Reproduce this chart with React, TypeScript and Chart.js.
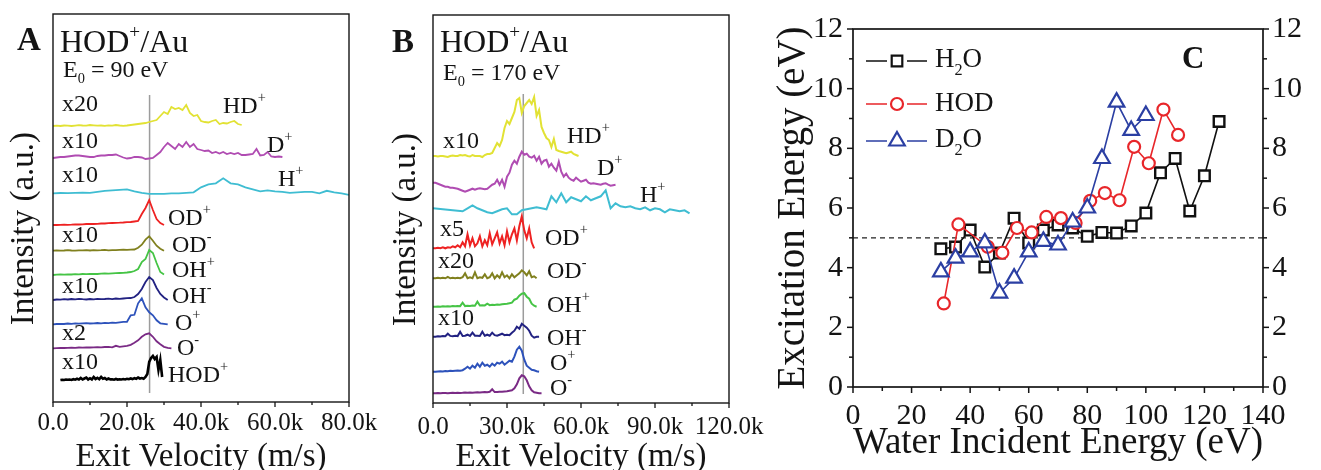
import React, { useEffect, useRef } from 'react';
import { Chart, registerables } from 'chart.js';

Chart.register(...registerables);

const SERIF = "'Liberation Serif', 'Times New Roman', 'DejaVu Serif', serif";
const INK = '#141414';
Chart.defaults.font.family = SERIF;

// ================= Panel A : HOD+/Au, E0 = 90 eV =================
// velocity axis in k m/s ; intensities in arbitrary units above each trace's baseline
const A_NAMES = ['HD+', 'D+', 'H+', 'OD+', 'OD-', 'OH+', 'OH-', 'O+', 'O-', 'HOD+'];
const A_HD_PLUS = [0, 0.3, 0, 0.5, 0.3, 0, 0.4, 0.8, 0.5, 0.3, 1, 0.7, 0.3, 0.5, 0.2, 0.6, 0.3, 1, 0.5, 0.2, 0.5, 1, 1.5, 2, 2.5, 3, 4, 5, 6, 10, 14, 12, 19, 17, 18, 16, 21, 13, 10, 11, 5, 4, 3.5, 5, 6, 2, 3, 2.5, 4, 5, 2, 1];
const A_D_PLUS = [0, 0.5, 1, 1, 1.5, 2, 2.5, 2.5, 2, 1.5, 1, 1, 2, 2.5, 2.5, 3, 3, 3.5, 2, 0.5, -0.5, 0, 1, 1, 0.5, -1, -0.5, 0, 3, 6, 11, 15, 12, 9, 14, 11, 16, 11, 14, 9, 8, 7, 7.5, 5, 6, 4.5, 6, 4, 5, 4, 5, 3, 3, 3.5, 4, 9, 2.5, 3, 6, 1.5, 1, 1.5, 1];
const A_H_PLUS = [0, 0.3, 0.2, 0.5, 0.6, 0.5, 1.5, 2.5, 3, 3.5, 4, 2, 0.5, -0.5, -0.5, -0.5, 0, 0, 0.5, 1, 6, 9, 10, 15, 10, 9, 6, 4, 2, 3, 2, 1.5, 0.5, 1, 1.5, 1.5, 0, 2.5, 1, 0, -1.5];
const A_OD_PLUS = [0, 0, 0.2, 0.3, 0.2, 0.3, 0.5, 0.5, 0.6, 1, 1, 1, 1.2, 1.5, 1.5, 1.8, 2, 2.2, 2.3, 2.5, 2.8, 3, 3.5, 4, 11, 17, 25, 15, 6, 2, 0];
const A_OD_MINUS = [0, 0.3, 0, 0.2, 0.5, 0.2, 0, 0.4, 0.3, 0.5, 0.2, 0.6, 0.3, 0.5, 0.8, 0.4, 0.6, 0.5, 0.8, 1, 0.8, 1, 1.2, 3, 6, 11, 14.5, 10, 5, 2, 0];
const A_OH_PLUS = [0, 0.3, 0.5, 0.3, 0.6, 0.5, 0.8, 0.6, 1, 0.8, 1, 1.2, 1, 1.3, 1.5, 1.4, 1.6, 1.8, 2, 2.2, 2.5, 3, 4, 6, 13, 16, 25, 22, 12, 3, 0.5];
const A_OH_MINUS = [0, 0.5, 0.3, 0.8, 0.5, 1, 0.6, 1.2, 0.8, 0.5, 1, 0.7, 1.2, 0.8, 1, 1.3, 0.9, 1.5, 1.2, 1.5, 1.8, 2, 3, 6, 11, 18, 23, 20, 12, 6, 2.5, 0];
const A_O_PLUS = [0, 0.3, 0.5, 0.3, 0.8, 0.5, 1, 0.6, 0.9, 1.2, 0.8, 1, 1.3, 1, 1.5, 1.2, 1.6, 1.5, 2, 2.5, 2.5, 9, 9.5, 21, 26, 17, 12, 9, 4, 1, 0.5, 0];
const A_O_MINUS = [0, 0.2, 0.4, 0.3, 0.5, 0.6, 0.5, 0.8, 0.6, 1, 0.8, 1, 1.2, 1, 1.3, 1.5, 1, 2.5, 1.5, 2, 2.5, 3.5, 5.5, 8, 11.5, 14, 15, 11.5, 7, 4, 1.5, 0.5, 0];
const A_HOD_PLUS = [0, 0.3, 0, 0.5, 0.2, 0.4, 0, 0.8, 0.3, 1.2, 0.4, 2, 0.5, 1.5, 2.5, 0.5, 1.8, 0.6, 3, 1, 2.2, 0.8, 3, 1.2, 2, 0.5, 1.5, 0.6, 0.8, 0.3, 1, 0.4, 0.8, 0.5, 1, 0.6, 1.2, 0.8, 1.5, 0.9, 1.8, 1.2, 2.5, 1.5, 2, 1.2, 3, 6, 18, 22, 24, 21, 23, 10, 20, 3];
const A_VALUES = [A_HD_PLUS, A_D_PLUS, A_H_PLUS, A_OD_PLUS, A_OD_MINUS, A_OH_PLUS, A_OH_MINUS, A_O_PLUS, A_O_MINUS, A_HOD_PLUS];
const A_OFFSETS = [276, 244, 208.7, 177, 151.3, 127, 102, 77.7, 53.7, 22];
const A_STARTS = [0, 0, 0, 0, 0, 0, 0, 0, 0, 2];
const A_STEPS = [1, 1, 2, 1, 1, 1, 1, 1, 1, 0.5];
const A_REF_VELOCITY = 26.1;
const A_REF_SPAN = [9, 307];
const A_X_RANGE = [0, 80];
const A_X_MAJOR = 20;
const A_X_MINOR = 10;

// ================= Panel B : HOD+/Au, E0 = 170 eV =================
const B_NAMES = ['HD+', 'D+', 'H+', 'OD+', 'OD-', 'OH+', 'OH-', 'O+', 'O-'];
const B_HD_PLUS = [0, 0, -0.5, 0, 0, -0.5, -1, 0, 0.5, 0, 0, 1, 0.5, 1, 0, -0.5, 1, 0, 0, 0, -1, 1, 2, 2, 3, 8, 13, 10, 16, 28, 35, 32, 38, 44, 56, 58, 43, 50, 53, 56, 52, 59, 40, 46, 29, 23, 18, 16, 9, 17, 6, 5, 4.3, 3.5, 2.7, 3.5, 4.3, 2, 1, 0];
const B_D_PLUS = [0, 0, -1, -2, -3, -4, -4, -5, -5, -5.5, -6, -7, -8, -9, -8, -7, -6, -7, -6, -5.5, -6, -6.5, -6, -4, -2, -1, 3, -2, 3, -4, 6, 10, 18, 22, 19, 26, 31, 28, 29, 26, 25, 27, 22, 26, 19, 22, 23, 16, 19, 15, 12, 21, 11, 6, 9, 5, 3, 2, 5, 3, 1, 2, 3, 0, -1, -0.5, -1, -1.5, -2, -1, -0.5, -2, -3, -2.5, -2];
const B_H_PLUS = [0, -0.5, -1, -1.5, -2, -2.5, -3, 0, 3, 0, -2, -4, -5, -3, -1, 0, -6, -6, -2, -1, 0, 1, 0, -1, 12, 6, 15, 6, 11, 9, 7, 12, 8, 10, 12, 18, 0, 5, 2, 1, 2, 0, -1, 1, -2, 0, -1, -4, -1, -2, -3, -2, -5];
const B_OD_PLUS = [0, 0, 0.5, 0, 1, 0, 1, 0.5, 2, 1, 3, 1, 6, 2, 14, 3, 10, 2, 5, 12, 2, 8, 3, 15, 4, 10, 16, 5, 12, 3, 17, 6, 14, 20, 8, 22, 32, 18, 10, 20, 6, 0];
const B_OD_MINUS = [0, 0, 0.5, 0, 0.5, 0, 1.5, 0, 0.5, 0, 0.5, 0, 1, 5, 0, 1, 0, 6, 0, 1, 0.5, 4, 0, 1, 5, 0, 3, 0.5, 6, 1, 3, 0, 4, 1, 3, 5, 8, 6, 3, 7, 1, 2, 0];
const B_OH_PLUS = [0, 0, 0.3, 0, 0.5, 0.2, 0.5, 0.3, 0.6, 0.4, 0.8, 0.5, 4, 0.6, 1, 0.8, 1.2, 1, 5, 1.2, 1.5, 1.3, 3, 1.5, 2, 1.8, 2.2, 2, 2.5, 2.8, 3, 3.5, 4, 7, 8, 11, 13, 13.5, 10, 8, 3, 1, 0];
const B_OH_MINUS = [0, 0, 0.5, 0.3, 0.8, 0.5, 3, 0.8, 0.5, 1, 0.6, 5, 0.8, 1, 2, 0.8, 4, 1, 1, 0.8, 5, 1, 2, 1, 4, 1.5, 1, 2, 3, 1.5, 2, 1.5, 4, 6, 10, 8, 13, 11, 9, 6, 1, -1, 0, 0];
const B_O_PLUS = [0, 0, 0.3, 0.5, 0.3, 0.8, 0.5, 1, 0.8, 1, 1.2, 1, 1.5, 3, 5, 3, 6, 4, 8, 5, 9, 6, 7, 5, 8, 6, 9, 8, 10, 7, 9, 11, 10, 15, 22, 25, 21, 12, 6, 4, 2, 1.5, 0.5, 0];
const B_O_MINUS = [0, 0, 0.2, 0, 0.3, 0.2, 0, 0.3, 0.5, 0.3, 0.5, 0.3, 0.5, 0.8, 0.5, 0.8, 0.6, 0.8, 1, 0.8, 1, 1.2, 1, 1.5, 4, 1.2, 1.3, 1.5, 1.5, 1.8, 2, 2.5, 3, 5, 9, 15, 18, 17, 13, 7, 3, 1, 0.5, 0, 0];
const B_VALUES = [B_HD_PLUS, B_D_PLUS, B_H_PLUS, B_OD_PLUS, B_OD_MINUS, B_OH_PLUS, B_OH_MINUS, B_O_PLUS, B_O_MINUS];
const B_OFFSETS = [247, 220.3, 194.7, 154.7, 124.7, 96.3, 66.3, 31.3, 9.7];
const B_STARTS = [0, 0, 0, 0, 0, 0, 0, 0, 0];
const B_STEPS = [1, 1, 2, 1, 1, 1, 1, 1, 1];
const B_REF_VELOCITY = 36.6;
const B_REF_SPAN = [9, 309];
const B_X_RANGE = [0, 120];
const B_X_MAJOR = 30;
const B_X_MINOR = 15;

// ================= Panel C : excitation energy =================
const H2O_ENERGY = [30, 35, 40, 45, 50, 55, 60, 65, 70, 75, 80, 85, 90, 95, 100, 105, 110, 115, 120, 125];
const H2O_EXCITATION = [4.63, 4.69, 5.26, 4.02, 4.49, 5.66, 4.83, 5.26, 5.43, 5.33, 5.05, 5.18, 5.16, 5.4, 5.83, 7.18, 7.66, 5.9, 7.08, 8.9];
const HOD_ENERGY = [31, 36, 46, 51, 56, 61, 66, 71, 76, 81, 86, 91, 96, 101, 106, 111];
const HOD_EXCITATION = [2.8, 5.45, 4.7, 4.5, 5.33, 5.18, 5.7, 5.66, 5.5, 6.24, 6.5, 6.26, 8.05, 7.5, 9.3, 8.45];
const D2O_ENERGY = [30, 35, 40, 45, 50, 55, 60, 65, 70, 75, 80, 85, 90, 95, 100];
const D2O_EXCITATION = [3.86, 4.32, 4.53, 4.83, 3.15, 3.65, 4.53, 4.88, 4.76, 5.53, 6.0, 7.66, 9.55, 8.6, 9.1];
const C_THRESHOLD = 5;
const C_X_RANGE = [0, 140];
const C_Y_RANGE = [0, 12];

// ----------------- styles -----------------
const A_COLORS = ['#e2e234', '#b04cb2', '#3fbdd2', '#ee2222', '#80801e', '#45c445', '#222282', '#2d52bb', '#7a2a85', '#000000'];
const A_WIDTHS = [1.8, 1.8, 1.8, 1.8, 1.8, 1.8, 1.8, 1.8, 1.8, 2.6];
const B_COLORS = ['#e2e234', '#b04cb2', '#3fbdd2', '#ee2222', '#80801e', '#45c445', '#222282', '#2d52bb', '#7a2a85'];
const B_WIDTHS = [2, 2, 2, 2, 2, 2, 2, 2, 2];

// ----------------- plugins -----------------
const frameTicks = {
  id: 'frameTicks',
  afterDraw(chart: any, _args: any, opts: any) {
    const { ctx, chartArea: a } = chart;
    ctx.save();
    ctx.strokeStyle = INK;
    ctx.lineWidth = opts.frameWidth || 1.5;
    ctx.strokeRect(a.left, a.top, a.right - a.left, a.bottom - a.top);
    ctx.lineWidth = opts.tickWidth || 1.3;
    for (const t of opts.ticks || []) {
      const sc = chart.scales[t.id];
      const n = Math.round((sc.max - sc.min) / t.minor);
      for (let i = 0; i <= n; i++) {
        const v = sc.min + i * t.minor;
        const isMajor = Math.abs(v / t.major - Math.round(v / t.major)) < 1e-6;
        const len = isMajor ? t.majorLen : t.minorLen;
        const p = sc.getPixelForValue(v);
        ctx.beginPath();
        if (t.side === 'bottom') { ctx.moveTo(p, a.bottom); ctx.lineTo(p, a.bottom + len); }
        else if (t.side === 'left') { ctx.moveTo(a.left, p); ctx.lineTo(a.left - len, p); }
        else { ctx.moveTo(a.right, p); ctx.lineTo(a.right + len, p); }
        ctx.stroke();
      }
    }
    ctx.restore();
  },
};

const waterLegend = {
  id: 'waterLegend',
  afterDraw(chart: any, _args: any, opts: any) {
    const { ctx, chartArea: a } = chart;
    for (const e of opts.entries || []) {
      const y = a.top + e.dy;
      const x0 = a.left + opts.x0;
      const x1 = a.left + opts.x1;
      const cx = a.left + opts.cx;
      ctx.save();
      ctx.strokeStyle = e.color;
      ctx.lineWidth = 1.6;
      ctx.beginPath();
      ctx.moveTo(x0, y); ctx.lineTo(cx - opts.gap, y);
      ctx.moveTo(cx + opts.gap, y); ctx.lineTo(x1, y);
      ctx.stroke();
      ctx.lineWidth = 2.2;
      ctx.fillStyle = '#fff';
      ctx.beginPath();
      if (e.shape === 'rect') ctx.rect(cx - 5.3, y - 5.3, 10.6, 10.6);
      else if (e.shape === 'circle') ctx.arc(cx, y, 6, 0, Math.PI * 2);
      else {
        const r = 9;
        ctx.moveTo(cx, y - r);
        ctx.lineTo(cx + r * 0.866, y + r * 0.5);
        ctx.lineTo(cx - r * 0.866, y + r * 0.5);
        ctx.closePath();
      }
      ctx.fill();
      ctx.stroke();
      ctx.restore();
    }
  },
};

function traceData(values: number[], start: number, step: number, offset: number) {
  return values.map((h, i) => ({ x: start + i * step, y: offset + h }));
}

const velocityLabel = (v: any) => (Number(v) === 0 ? '0.0' : `${Number(v).toFixed(1)}k`);

function stackedConfig(p: any) {
  const datasets: any[] = p.values.map((vals: number[], i: number) => ({
    label: p.names[i],
    data: traceData(vals, p.starts[i], p.steps[i], p.offsets[i]),
    borderColor: p.colors[i],
    borderWidth: p.widths[i],
    pointRadius: 0,
    tension: 0,
    fill: false,
  }));
  datasets.push({
    label: 'reference',
    data: [{ x: p.refX, y: p.refSpan[0] }, { x: p.refX, y: p.refSpan[1] }],
    borderColor: '#9c9c9c',
    borderWidth: 1.5,
    pointRadius: 0,
  });
  return {
    type: 'line',
    data: { datasets },
    options: {
      responsive: false,
      animation: false,
      events: [],
      layout: { padding: { left: 0, right: p.padRight, top: p.padTop, bottom: 0 } },
      plugins: {
        legend: { display: false },
        tooltip: { enabled: false },
        frameTicks: {
          frameWidth: 1.4,
          tickWidth: 1.3,
          ticks: [{ id: 'x', side: 'bottom', major: p.xMajor, minor: p.xMinor, majorLen: 5, minorLen: 3 }],
        },
      },
      scales: {
        x: {
          type: 'linear',
          min: p.xRange[0],
          max: p.xRange[1],
          grid: { display: false, drawTicks: false },
          border: { display: false },
          ticks: {
            stepSize: p.xMajor,
            autoSkip: false,
            maxRotation: 0,
            minRotation: 0,
            padding: p.tickPad,
            color: INK,
            font: { family: SERIF, size: 25 },
            callback: velocityLabel,
          },
          title: {
            display: true,
            text: 'Exit Velocity (m/s)',
            color: INK,
            font: { family: SERIF, size: 33, lineHeight: 0.6 },
            padding: { top: 0, bottom: 3 },
          },
          afterFit: (s: any) => { s.height = p.xHeight; s.paddingLeft = 0; s.paddingRight = 0; },
        },
        y: {
          type: 'linear',
          min: 0,
          max: 388,
          grid: { display: false, drawTicks: false },
          border: { display: false },
          ticks: { display: false },
          title: {
            display: true,
            text: 'Intensity (a.u.)     ',
            color: INK,
            font: { family: SERIF, size: 33 },
            padding: { top: p.yTitlePad, bottom: 0 },
          },
          afterFit: (s: any) => { s.width = p.yWidth; s.paddingTop = 0; s.paddingBottom = 0; },
        },
      },
    },
    plugins: [frameTicks],
  };
}

function configA() {
  return stackedConfig({
    names: A_NAMES, values: A_VALUES, offsets: A_OFFSETS, starts: A_STARTS, steps: A_STEPS,
    colors: A_COLORS, widths: A_WIDTHS, refX: A_REF_VELOCITY, refSpan: A_REF_SPAN,
    xRange: A_X_RANGE, xMajor: A_X_MAJOR, xMinor: A_X_MINOR,
    padRight: 36, padTop: 14, xHeight: 68, yWidth: 53, yTitlePad: 5, tickPad: 6,
  });
}

function configB() {
  return stackedConfig({
    names: B_NAMES, values: B_VALUES, offsets: B_OFFSETS, starts: B_STARTS, steps: B_STEPS,
    colors: B_COLORS, widths: B_WIDTHS, refX: B_REF_VELOCITY, refSpan: B_REF_SPAN,
    xRange: B_X_RANGE, xMajor: B_X_MAJOR, xMinor: B_X_MINOR,
    padRight: 41, padTop: 15, xHeight: 67, yWidth: 63, yTitlePad: 17, tickPad: 9,
  });
}

function configC() {
  const tickFont = { family: SERIF, size: 30 };
  return {
    type: 'line',
    data: {
      datasets: [
        {
          label: 'threshold',
          data: [{ x: C_X_RANGE[0], y: C_THRESHOLD }, { x: C_X_RANGE[1], y: C_THRESHOLD }],
          borderColor: '#222',
          borderWidth: 1.2,
          borderDash: [5, 4],
          pointRadius: 0,
          order: 5,
        },
        {
          label: 'H2O',
          data: H2O_ENERGY.map((x, i) => ({ x, y: H2O_EXCITATION[i] })),
          borderColor: '#111',
          borderWidth: 1.6,
          pointStyle: 'rect',
          pointRadius: 7.5,
          pointBorderWidth: 2.4,
          pointBackgroundColor: '#fff',
          pointBorderColor: '#111',
          order: 3,
        },
        {
          label: 'HOD',
          data: HOD_ENERGY.map((x, i) => ({ x, y: HOD_EXCITATION[i] })),
          borderColor: '#e8262a',
          borderWidth: 1.6,
          pointStyle: 'circle',
          pointRadius: 6,
          pointBorderWidth: 2.2,
          pointBackgroundColor: '#fff',
          pointBorderColor: '#e8262a',
          order: 2,
        },
        {
          label: 'D2O',
          data: D2O_ENERGY.map((x, i) => ({ x, y: D2O_EXCITATION[i] })),
          borderColor: '#2b3fa3',
          borderWidth: 1.6,
          pointStyle: 'triangle',
          pointRadius: 9,
          pointBorderWidth: 2.2,
          pointBackgroundColor: '#fff',
          pointBorderColor: '#2b3fa3',
          order: 1,
        },
      ],
    },
    options: {
      responsive: false,
      animation: false,
      events: [],
      layout: { padding: { left: 0, right: 0, top: 29, bottom: 0 } },
      plugins: {
        legend: { display: false },
        tooltip: { enabled: false },
        frameTicks: {
          frameWidth: 1.7,
          tickWidth: 1.5,
          ticks: [
            { id: 'x', side: 'bottom', major: 20, minor: 10, majorLen: 6, minorLen: 4 },
            { id: 'y', side: 'left', major: 2, minor: 1, majorLen: 6, minorLen: 4 },
            { id: 'y2', side: 'right', major: 2, minor: 1, majorLen: 6, minorLen: 4 },
          ],
        },
        waterLegend: {
          x0: 13, x1: 74, cx: 44, gap: 10,
          entries: [
            { dy: 32, color: '#111', shape: 'rect' },
            { dy: 75, color: '#e8262a', shape: 'circle' },
            { dy: 112, color: '#2b3fa3', shape: 'triangle' },
          ],
        },
      },
      scales: {
        x: {
          type: 'linear',
          min: C_X_RANGE[0],
          max: C_X_RANGE[1],
          grid: { display: false, drawTicks: false },
          border: { display: false },
          ticks: { stepSize: 20, autoSkip: false, maxRotation: 0, padding: 11, color: INK, font: tickFont },
          title: {
            display: true,
            text: 'Water Incident Energy (eV)',
            color: INK,
            font: { family: SERIF, size: 37 },
            padding: { top: 0, bottom: 5 },
          },
          afterFit: (s: any) => { s.height = 83; s.paddingLeft = 0; s.paddingRight = 0; },
        },
        y: {
          type: 'linear',
          position: 'left',
          min: C_Y_RANGE[0],
          max: C_Y_RANGE[1],
          grid: { display: false, drawTicks: false },
          border: { display: false },
          ticks: { stepSize: 2, padding: 10, color: INK, font: tickFont },
          title: {
            display: true,
            text: 'Excitation Energy (eV)',
            color: INK,
            font: { family: SERIF, size: 39 },
            padding: { top: 10, bottom: 0 },
          },
          afterFit: (s: any) => { s.width = 93; s.paddingTop = 0; s.paddingBottom = 0; },
        },
        y2: {
          type: 'linear',
          position: 'right',
          min: C_Y_RANGE[0],
          max: C_Y_RANGE[1],
          grid: { display: false, drawTicks: false },
          border: { display: false },
          ticks: { stepSize: 2, padding: 9, color: INK, font: tickFont },
          afterFit: (s: any) => { s.width = 58; s.paddingTop = 0; s.paddingBottom = 0; },
        },
      },
    },
    plugins: [frameTicks, waterLegend],
  };
}

function ChartCanvas({ left, width, build }: { left: number; width: number; build: () => any }) {
  const ref = useRef<HTMLCanvasElement | null>(null);
  useEffect(() => {
    const chart = new Chart(ref.current as HTMLCanvasElement, build());
    return () => chart.destroy();
  }, []);
  return (
    <canvas
      ref={ref}
      width={width}
      height={470}
      style={{ position: 'absolute', left, top: 0, width, height: 470 }}
    />
  );
}

const Sup = ({ children }: { children: any }) => (
  <span style={{ fontSize: '0.6em', position: 'relative', top: '-0.75em' }}>{children}</span>
);
const Sub = ({ children }: { children: any }) => (
  <span style={{ fontSize: '0.6em', position: 'relative', top: '0.45em' }}>{children}</span>
);

function Label({ x, y, size, bold, children }: { x: number; y: number; size: number; bold?: boolean; children: any }) {
  return (
    <div
      style={{
        position: 'absolute',
        left: x,
        top: y - 0.8375 * size,
        fontSize: size,
        lineHeight: 1,
        fontFamily: SERIF,
        fontWeight: bold ? 'bold' : 'normal',
        whiteSpace: 'nowrap',
        color: INK,
      }}
    >
      {children}
    </div>
  );
}

function Ion({ name }: { name: string }) {
  const charge = name.slice(-1);
  return (
    <>
      {name.slice(0, -1)}
      <Sup>{charge === '-' ? '-' : '+'}</Sup>
    </>
  );
}

export default function App() {
  const L = 24;
  return (
    <div style={{ position: 'absolute', left: 0, top: 0, width: 1321, height: 470, background: '#fff', overflow: 'hidden' }}>
      <ChartCanvas left={0} width={385} build={configA} />
      <ChartCanvas left={370} width={400} build={configB} />
      <ChartCanvas left={760} width={561} build={configC} />

      {/* Panel A texts */}
      <Label x={17} y={51} size={33} bold>A</Label>
      <Label x={60} y={52} size={32}>HOD<Sup>+</Sup>/Au</Label>
      <Label x={63} y={77} size={24}>E<Sub>0</Sub> = 90 eV</Label>
      <Label x={62} y={111} size={L}>x20</Label>
      <Label x={223} y={113} size={L}><Ion name="HD+" /></Label>
      <Label x={62} y={148} size={L}>x10</Label>
      <Label x={267} y={152} size={L}><Ion name="D+" /></Label>
      <Label x={62} y={182} size={L}>x10</Label>
      <Label x={278} y={186} size={L}><Ion name="H+" /></Label>
      <Label x={168} y={225} size={L}><Ion name="OD+" /></Label>
      <Label x={62} y={242} size={L}>x10</Label>
      <Label x={172} y={252} size={L}><Ion name="OD-" /></Label>
      <Label x={172} y={277} size={L}><Ion name="OH+" /></Label>
      <Label x={62} y={293} size={L}>x10</Label>
      <Label x={172} y={303} size={L}><Ion name="OH-" /></Label>
      <Label x={175} y={330} size={L}><Ion name="O+" /></Label>
      <Label x={62} y={340} size={L}>x2</Label>
      <Label x={177} y={355} size={L}><Ion name="O-" /></Label>
      <Label x={62} y={369} size={L}>x10</Label>
      <Label x={168} y={382} size={L}><Ion name="HOD+" /></Label>

      {/* Panel B texts */}
      <Label x={392} y={53} size={33} bold>B</Label>
      <Label x={440} y={52} size={32}>HOD<Sup>+</Sup>/Au</Label>
      <Label x={443} y={80} size={24}>E<Sub>0</Sub> = 170 eV</Label>
      <Label x={443} y={148} size={L}>x10</Label>
      <Label x={567} y={143} size={L}><Ion name="HD+" /></Label>
      <Label x={597} y={175} size={L}><Ion name="D+" /></Label>
      <Label x={640} y={202} size={L}><Ion name="H+" /></Label>
      <Label x={440} y={236} size={L}>x5</Label>
      <Label x={545} y={245} size={L}><Ion name="OD+" /></Label>
      <Label x={438} y={268} size={L}>x20</Label>
      <Label x={547} y={278} size={L}><Ion name="OD-" /></Label>
      <Label x={547} y={312} size={L}><Ion name="OH+" /></Label>
      <Label x={438} y={325} size={L}>x10</Label>
      <Label x={547} y={345} size={L}><Ion name="OH-" /></Label>
      <Label x={550} y={370} size={L}><Ion name="O+" /></Label>
      <Label x={550} y={395} size={L}><Ion name="O-" /></Label>

      {/* Panel C texts */}
      <Label x={935} y={68} size={27}>H<Sub>2</Sub>O</Label>
      <Label x={935} y={112} size={27}>HOD</Label>
      <Label x={935} y={148} size={27}>D<Sub>2</Sub>O</Label>
      <Label x={1182} y={68} size={31} bold>C</Label>
    </div>
  );
}
